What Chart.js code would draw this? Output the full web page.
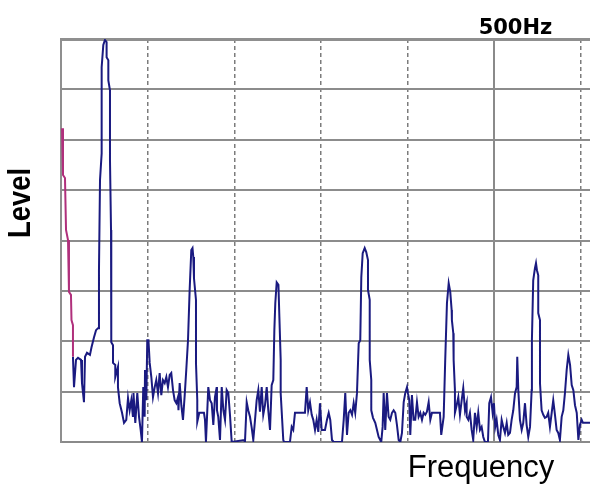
<!DOCTYPE html>
<html>
<head>
<meta charset="utf-8">
<script src="https://cdn.jsdelivr.net/npm/chart.js@4.4.1/dist/chart.umd.min.js"></script>
<style>
  html, body { margin: 0; padding: 0; background: #fff; overflow: hidden; }
</style>
</head>
<body>
<canvas id="grafico" width="590" height="487"></canvas>
<script>
// textos
const yName = "Level";
const xName = "Frequency";
const topTicks = [500];
const topTickLabels = ["500Hz"];

// eje x en Hz, eje y en divisiones de nivel (0..8)
const freqMin = 0;
const freqMax = 610.2;
const levelMax = 8;

// tramo inicial (magenta) [Hz, nivel]
const traceLow = [
  [1.2,6.23],[2.3,5.30],[4.6,5.24],[5.8,4.21],[8.1,4.01],[9.2,2.98],[11.5,2.92],[12.1,2.42],[13.8,2.32],[13.8,1.69]
];

// espectro principal [Hz, nivel]
const traceMain = [
  [13.8,1.69],[15.0,1.09],[17.3,1.63],[19.6,1.67],[23.1,1.63],[24.2,1.17],[26.5,0.79],[27.7,1.69],[30.0,1.77],[33.4,1.73],
  [35.2,1.88],[38.1,2.08],[40.4,2.22],[42.7,2.26],[43.8,3.41],[45.0,5.20],[46.9,5.73],[46.9,7.44],[48.8,7.88],[50.7,7.98],
  [52.6,7.94],[52.6,7.64],[54.6,7.58],[54.6,7.18],[56.5,6.98],[56.5,5.60],[57.7,4.21],[58.0,1.98],[60.0,1.92],[60.0,1.57],
  [62.6,1.53],[62.6,1.29],[65.7,1.49],[65.7,1.09],[67.7,0.77],[70.4,0.58],[72.7,0.38],[75.3,0.44],[77.3,0.87],[79.2,0.63],
  [81.1,0.83],[83.0,0.50],[83.6,0.97],[85.7,0.38],[88.0,0.97],[90.0,0.50],[91.9,0.24],[93.4,0],[94.9,1.09],[96.5,0.50],
  [96.9,1.43],[98.4,0.83],[99.5,2.02],[100.9,2.02],[102.3,1.57],[104.2,1.29],[106.1,0.89],[108.1,1.09],[109.9,1.23],[111.9,0.97],
  [113.8,1.37],[115.7,0.93],[117.6,1.23],[119.6,1.17],[121.5,1.29],[123.4,1.09],[125.4,1.33],[127.2,1.37],[129.2,1.03],[131.1,0.83],
  [133.0,0.77],[134.9,0.89],[135.5,0.63],[136.9,1.17],[138.8,0.73],[140.7,0.44],[142.7,0.93],[144.5,1.43],[146.5,2.02],[148.4,3.02],
  [150.3,3.81],[151.7,3.85],[152.6,3.67],[153.4,3.25],[155.7,2.82],[155.7,1.57],[157.2,0.83],[157.2,0.40],[159.5,0.58],[164.9,0.58],
  [166.1,0.44],[167.2,0],[169.9,1.09],[171.9,0.83],[173.8,0.77],[175.7,0.34],[177.6,0.89],[179.6,1.09],[179.9,0.63],[181.4,0.50],
  [183.4,0.04],[185.4,1.09],[187.3,0.63],[189.2,0.44],[191.1,1.03],[193.0,0.97],[194.9,0.54],[196.9,0],[211.1,0.04],[212.2,0],
  [214.2,0.79],[216.0,0.63],[218.0,0.50],[220.0,0.28],[221.8,0.04],[223.8,0.44],[225.7,0.83],[227.6,1.03],[229.5,0.60],[231.5,1.09],
  [233.3,0.54],[235.3,0.73],[237.3,1.09],[239.1,0.63],[241.1,0.24],[243.0,1.13],[244.9,1.23],[246.1,2.22],[247.2,2.76],[248.8,3.17],
  [250.8,3.12],[251.9,2.48],[253.4,1.63],[253.4,0.97],[256.4,0.04],[257.3,0],[264.1,0],[266.1,0.30],[267.9,0.24],[269.9,0.58],
  [281.4,0.58],[283.4,1.09],[285.2,0.63],[287.2,0.79],[289.2,0.54],[291.0,0.44],[293.0,0.24],[294.9,0.44],[296.8,0.20],[298.7,0.77],
  [300.7,0.24],[304.5,0.24],[306.8,0.44],[308.8,0.58],[310.6,0.44],[312.6,0.04],[314.5,0],[324.1,0],[326.1,0.44],[327.9,0.97],
  [329.9,0.14],[331.8,0.58],[333.7,0.63],[335.7,0.54],[337.6,0.77],[339.4,0.58],[341.4,0.97],[343.4,1.96],[345.2,2.02],[346.4,3.27],
  [348.0,3.75],[350.3,3.85],[352.1,3.77],[354.1,3.61],[354.1,3.02],[356.1,2.82],[356.1,1.63],[357.9,1.23],[357.9,0.63],[359.9,0.48],
  [362.5,0.38],[364.5,0.24],[366.4,0.10],[369.4,0],[371.0,0.30],[372.2,0.97],[374.0,0.24],[376.0,0.97],[377.9,0.50],[379.8,0.44],
  [381.8,0.58],[383.7,0.63],[385.6,0.58],[387.5,0.34],[389.5,0.04],[391.4,0],[393.3,0.18],[395.3,0.79],[397.1,0.97],[399.1,1.09],
  [400.2,0.97],[401.7,0.83],[402.9,0.14],[404.8,0.93],[406.7,0.44],[408.6,0.44],[410.6,0.79],[412.5,0.50],[414.4,0.58],[416.4,0.44],
  [418.3,0.58],[420.2,0.54],[422.1,0.60],[424.1,0.79],[426.0,0.44],[427.9,0.58],[437.1,0.58],[438.6,0.14],[441.4,0.50],[443.2,1.63],
  [445.2,2.76],[447.2,3.15],[449.0,2.98],[450.6,2.62],[450.9,2.42],[452.5,2.16],[452.9,1.63],[454.4,1.03],[454.4,0.58],[456.4,0.73],
  [458.3,0.89],[460.2,0.54],[462.2,0.83],[464.0,1.07],[466.0,0.63],[467.9,0.77],[467.9,0.50],[469.8,0.44],[471.7,0.58],[473.7,0.24],
  [475.5,0.04],[477.5,0.58],[479.5,0.30],[481.3,0.58],[483.3,0.24],[485.2,0.30],[487.1,0.10],[489.0,0],[492.5,0],[494.0,0.77],
  [496.0,0.89],[497.9,0.58],[499.4,0.77],[500.9,0.30],[502.5,0.44],[504.4,0.14],[506.3,0.04],[508.3,0.44],[510.2,0.30],[512.1,0.18],
  [514.1,0.38],[515.9,0.14],[517.9,0.18],[519.8,0.44],[521.7,0.63],[523.7,0.97],[525.6,1.09],[526.3,1.69],[527.5,1.03],[529.4,0.44],
  [531.4,0.24],[533.2,0.38],[535.2,0.77],[537.1,0.34],[539.0,0.10],[541.0,0.30],[542.9,1.03],[543.2,2.02],[544.7,3.21],[546.7,3.45],
  [547.9,3.55],[549.0,3.41],[550.5,3.31],[550.5,2.56],[552.5,2.42],[552.5,1.17],[554.4,0.63],[556.3,0.54],[558.2,0.48],[560.2,0.50],
  [562.0,0.58],[564.0,0.30],[566.0,0.58],[567.8,0.83],[569.8,0.54],[571.7,0.24],[573.6,0.18],[575.5,0.04],[577.5,0.50],[579.4,0.63],
  [581.3,0.97],[583.3,1.43],[585.2,1.73],[587.2,1.53],[589.1,1.13],[591.0,1.03],[592.9,0.73],[594.9,0.58],[596.8,0.04],[598.6,0.34],
  [600.6,0.44],[602.1,0.38],[610.2,0.38]
];

const toPoints = (pares) => pares.map(([f, l]) => ({x: f, y: l}));

// nombres de ejes dibujados fuera del area
const axisNames = {
  id: "axisNames",
  afterDraw(chart) {
    const {ctx, chartArea} = chart;
    ctx.save();
    ctx.fillStyle = "#000";
    ctx.font = "bold 32px 'Liberation Sans', Arial, sans-serif";
    ctx.textAlign = "center";
    ctx.textBaseline = "middle";
    ctx.translate(chartArea.left - 40, chartArea.top + 164);
    ctx.rotate(-Math.PI / 2);
    const w = ctx.measureText(yName).width;
    ctx.scale(70 / w, 1);
    ctx.fillText(yName, 0, 0);
    ctx.restore();

    ctx.save();
    ctx.fillStyle = "#000";
    ctx.font = "31px 'Liberation Sans', Arial, sans-serif";
    ctx.textAlign = "center";
    ctx.textBaseline = "alphabetic";
    ctx.fillText(xName, chartArea.right - 109, chartArea.bottom + 35);
    ctx.restore();
  }
};

const ctx = document.getElementById("grafico").getContext("2d");

new Chart(ctx, {
  type: "line",
  data: {
    datasets: [
      {
        data: toPoints(traceLow),
        borderColor: "#b0307c",
        borderWidth: 2,
        pointRadius: 0,
        tension: 0
      },
      {
        data: toPoints(traceMain),
        borderColor: "#1a1a80",
        borderWidth: 2,
        pointRadius: 0,
        tension: 0
      }
    ]
  },
  options: {
    responsive: false,
    animation: false,
    layout: { padding: { left: 61, right: 0, top: 0, bottom: 0 } },
    plugins: {
      legend: { display: false },
      tooltip: { enabled: false }
    },
    scales: {
      x: {
        type: "linear",
        position: "bottom",
        min: freqMin,
        max: freqMax,
        ticks: { display: false, stepSize: 100, includeBounds: false },
        grid: {
          drawTicks: false,
          color: (c) => (c.tick && c.tick.value === 500 ? "rgba(0,0,0,0)" : "#7c7c7c"),
          lineWidth: 1.5
        },
        border: { display: true, color: "#8a8a8a", width: 2, dash: [4, 3] },
        afterFit: (s) => { s.height = 45; }
      },
      x2: {
        type: "linear",
        position: "top",
        min: freqMin,
        max: freqMax,
        afterBuildTicks: (s) => { s.ticks = topTicks.map((v) => ({value: v})); },
        ticks: {
          callback: (v, i) => topTickLabels[i],
          color: "#000",
          font: { family: "'DejaVu Sans', Verdana, sans-serif", size: 21, weight: "bold" },
          padding: -2,
          labelOffset: 21,
          maxRotation: 0,
          autoSkip: false
        },
        grid: { drawTicks: false, color: "#8a8a8a", lineWidth: 2 },
        border: { display: true, color: "#8f8f8f", width: 3 },
        afterFit: (s) => { s.height = 39; }
      },
      y: {
        min: 0,
        max: levelMax,
        ticks: { display: false, stepSize: 1 },
        grid: { drawTicks: false, color: "#8c8c8c", lineWidth: 2 },
        border: { display: true, color: "#8f8f8f", width: 2 },
        afterFit: (s) => { s.width = 0; }
      }
    }
  },
  plugins: [axisNames]
});
</script>
</body>
</html>
